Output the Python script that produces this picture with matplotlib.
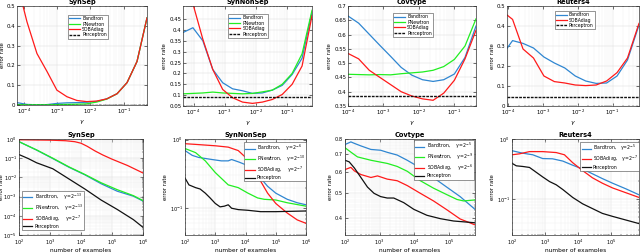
import numpy as np
import matplotlib
matplotlib.use("Agg")
import matplotlib.pyplot as plt
from matplotlib.ticker import FixedLocator, NullFormatter, LogLocator, FixedFormatter

# ---------------- data: top row (error rate vs gamma, x stored as log10 gamma) -------------
titles_top = ["SynSep", "SynNonSep", "Covtype", "Reuters4"]

synsep_g = [-4.21, -3.91, -3.61, -3.31, -3.01, -2.71, -2.41, -2.11, -1.81, -1.51, -1.20, -0.90, -0.60, -0.30]
synsep_band = [0.012, 0.003, 0.001, 0.002, 0.008, 0.011, 0.012, 0.014, 0.018, 0.031, 0.057, 0.113, 0.22, 0.44]
synsep_pnew = [0.002, 0.001, 0.001, 0.001, 0.002, 0.003, 0.004, 0.006, 0.015, 0.030, 0.057, 0.113, 0.22, 0.44]
synsep_soba = [0.62, 0.42, 0.26, 0.17, 0.075, 0.042, 0.023, 0.017, 0.020, 0.031, 0.057, 0.113, 0.22, 0.44]
synsep_perc = 0.002

synnon_g = [-4.34, -4.02, -3.70, -3.38, -3.06, -2.74, -2.42, -2.10, -1.78, -1.46, -1.14, -0.82, -0.50, -0.18]
synnon_band = [0.388, 0.41, 0.35, 0.218, 0.157, 0.129, 0.12, 0.108, 0.11, 0.123, 0.145, 0.195, 0.27, 0.48]
synnon_pnew = [0.106, 0.108, 0.11, 0.114, 0.11, 0.108, 0.106, 0.108, 0.115, 0.123, 0.15, 0.2, 0.29, 0.49]
synnon_soba = [0.62, 0.52, 0.357, 0.218, 0.126, 0.088, 0.068, 0.062, 0.068, 0.08, 0.103, 0.15, 0.234, 0.465]
synnon_perc = 0.09

cov_g = [-4.0, -3.7, -3.4, -3.1, -2.8, -2.5, -2.2, -1.9, -1.6, -1.3, -1.0, -0.7, -0.39]
cov_band = [0.665, 0.64, 0.601, 0.562, 0.524, 0.485, 0.458, 0.442, 0.436, 0.442, 0.462, 0.52, 0.63]
cov_pnew = [0.461, 0.46, 0.459, 0.46, 0.459, 0.463, 0.466, 0.469, 0.475, 0.488, 0.513, 0.56, 0.655]
cov_soba = [0.534, 0.515, 0.475, 0.45, 0.425, 0.40, 0.385, 0.375, 0.370, 0.395, 0.44, 0.515, 0.615]
cov_perc = 0.385

reu_g = [-4.03, -3.87, -3.57, -3.27, -2.97, -2.67, -2.37, -2.07, -1.77, -1.47, -1.17, -0.87, -0.57, -0.24]
reu_band = [0.288, 0.327, 0.313, 0.29, 0.245, 0.215, 0.19, 0.15, 0.125, 0.113, 0.115, 0.15, 0.23, 0.405]
reu_soba = [0.455, 0.433, 0.285, 0.24, 0.15, 0.122, 0.115, 0.105, 0.102, 0.105, 0.125, 0.167, 0.24, 0.413]
reu_perc = 0.043

# ---------------- data: bottom row (log10 examples, log10 error rate) -------------
ss_bx = [2, 2.57, 3.09, 3.61, 4.13, 4.65, 5.17, 5.69, 6.0]
ss_band = [-0.14, -0.58, -1.02, -1.47, -1.87, -2.33, -2.72, -2.98, -3.23]
ss_pnew = [-0.14, -0.57, -1.0, -1.45, -1.85, -2.28, -2.64, -2.95, -3.21]
ss_sx = [2, 3, 3.5, 3.8, 4.0, 4.2, 4.45, 4.7, 5.0, 5.5, 6.0]
ss_soba = [-0.04, -0.06, -0.09, -0.14, -0.22, -0.38, -0.62, -0.83, -1.05, -1.38, -1.77]
ss_px = [2, 2.3, 2.57, 3.09, 3.61, 4.13, 4.65, 5.17, 5.69, 6.0]
ss_perc = [-0.81, -1.02, -1.24, -1.55, -2.08, -2.61, -3.18, -3.67, -4.2, -4.6]

sn_bx = [2, 2.24, 2.45, 2.89, 3.2, 3.43, 3.54, 3.8, 4.08, 4.4, 4.73, 5.0, 5.38, 5.71, 6.0]
sn_band = [-0.16, -0.23, -0.26, -0.29, -0.31, -0.31, -0.29, -0.33, -0.38, -0.51, -0.68, -0.78, -0.87, -0.92, -0.95]
sn_nx = [2, 2.35, 2.67, 3.0, 3.43, 3.76, 4.08, 4.4, 4.62, 5.0, 5.38, 6.0]
sn_pnew = [-0.13, -0.19, -0.31, -0.48, -0.66, -0.70, -0.78, -0.85, -0.87, -0.88, -0.92, -0.97]
sn_sx = [2, 2.35, 3.0, 3.43, 3.76, 4.08, 4.4, 4.73, 5.0, 5.38, 5.71, 6.0]
sn_soba = [-0.06, -0.07, -0.09, -0.11, -0.16, -0.29, -0.53, -0.78, -0.93, -1.07, -1.17, -1.22]
sn_px = [2, 2.13, 2.24, 2.35, 2.5, 2.67, 2.83, 3.0, 3.16, 3.3, 3.43, 3.54, 3.76, 4.08, 4.5, 5.0, 6.0]
sn_perc = [-0.56, -0.66, -0.68, -0.70, -0.72, -0.78, -0.85, -0.93, -0.98, -0.97, -0.95, -1.0, -1.02, -1.03, -1.05, -1.05, -1.04]

cv_bx = [2, 2.17, 2.27, 2.46, 2.75, 3.03, 3.22, 3.51, 3.8, 4.18, 4.56, 4.95, 5.33, 5.76]
cv_band = [0.762, 0.78, 0.77, 0.753, 0.73, 0.725, 0.712, 0.695, 0.664, 0.621, 0.57, 0.524, 0.483, 0.432]
cv_nx = [2, 2.17, 2.36, 2.75, 3.22, 3.51, 3.8, 4.18, 4.56, 4.95, 5.24, 5.43, 5.76]
cv_pnew = [0.741, 0.713, 0.684, 0.664, 0.646, 0.629, 0.603, 0.555, 0.52, 0.491, 0.471, 0.465, 0.469]
cv_sx = [2, 2.17, 2.27, 2.46, 2.75, 2.94, 3.22, 3.51, 3.8, 4.18, 4.56, 4.95, 5.33, 5.76]
cv_soba = [0.612, 0.624, 0.605, 0.586, 0.571, 0.579, 0.563, 0.555, 0.532, 0.497, 0.465, 0.43, 0.397, 0.377]
cv_px = [2, 2.12, 2.27, 2.46, 2.65, 2.84, 3.03, 3.22, 3.41, 3.7, 3.99, 4.37, 4.76, 5.14, 5.76]
cv_perc = [0.664, 0.655, 0.621, 0.571, 0.525, 0.497, 0.483, 0.477, 0.477, 0.458, 0.432, 0.41, 0.398, 0.39, 0.384]

rt_bx = [2, 2.33, 2.63, 2.93, 3.23, 3.54, 3.84, 4.14, 4.44, 4.74, 5.05, 5.45, 5.85]
rt_band = [-0.195, -0.237, -0.263, -0.326, -0.33, -0.368, -0.437, -0.5, -0.58, -0.66, -0.737, -0.83, -0.93]
rt_sx = [2, 2.23, 2.53, 2.93, 3.34, 3.59, 3.84, 4.14, 4.44, 4.74, 5.05, 5.45, 5.85]
rt_soba = [-0.263, -0.247, -0.21, -0.21, -0.226, -0.263, -0.395, -0.526, -0.647, -0.737, -0.816, -0.895, -0.974]
rt_px = [2, 2.13, 2.33, 2.53, 2.73, 2.93, 3.14, 3.34, 3.54, 3.84, 4.14, 4.44, 4.74, 5.05, 5.45, 5.85]
rt_perc = [-0.405, -0.447, -0.458, -0.474, -0.553, -0.632, -0.71, -0.763, -0.842, -0.974, -1.08, -1.16, -1.24, -1.29, -1.35, -1.41]

# ---------------- style -------------
C_B = "#2f86d1"
C_G = "#22ee22"
C_R = "#ff1a1a"
C_K = "#111111"
FS = 3.9
LFS = 3.3
plt.rcParams.update({"font.family": "DejaVu Sans", "font.size": FS,
                     "axes.linewidth": 0.5, "xtick.direction": "in", "ytick.direction": "in",
                     "xtick.major.size": 2, "ytick.major.size": 2, "xtick.minor.size": 1,
                     "ytick.minor.size": 1, "xtick.major.width": 0.4, "ytick.major.width": 0.4,
                     "xtick.minor.width": 0.3, "ytick.minor.width": 0.3,
                     "xtick.major.pad": 1.5, "ytick.major.pad": 1.0})

W, H = 640, 252
fig = plt.figure(figsize=(6.4, 2.52), dpi=100)

def mkax(x0, y0, x1, y1):
    return fig.add_axes([x0 / W, 1 - y1 / H, (x1 - x0) / W, (y1 - y0) / H])

def style(ax, title):
    ax.set_title(title, fontsize=4.8, fontweight="bold", pad=1.2)
    ax.grid(True, which="major", color="#dcdcdc", lw=0.35)
    ax.grid(True, which="minor", color="#eeeeee", lw=0.3)
    ax.tick_params(which="both", top=True, right=True, labelsize=FS)
    ax.set_axisbelow(True)
    for s in ax.spines.values():
        s.set_color("#333333")

def legend(ax, loc, anc, hl):
    leg = ax.legend(loc=loc, bbox_to_anchor=anc, fontsize=LFS, frameon=True, fancybox=False,
                    edgecolor="#444444", framealpha=1, handlelength=hl, handletextpad=0.5,
                    borderpad=0.25, labelspacing=0.1, borderaxespad=0)
    leg.get_frame().set_linewidth(0.4)

LW = 0.9
top_boxes = [(17, 6, 147, 105), (183, 6, 312, 106), (348, 6, 476, 106), (507, 6, 639, 106)]
top_leg = [(0.39, 0.91), (0.35, 0.92), (0.35, 0.93), (0.36, 0.95)]
top_data = [
    (synsep_g, synsep_band, synsep_pnew, synsep_soba, synsep_perc, (0, 0.5), np.arange(0, 0.51, 0.1), "%.1f"),
    (synnon_g, synnon_band, synnon_pnew, synnon_soba, synnon_perc, (0.05, 0.51), np.arange(0.05, 0.451, 0.05), "%g"),
    (cov_g, cov_band, cov_pnew, cov_soba, cov_perc, (0.35, 0.7), np.arange(0.35, 0.701, 0.05), "%g"),
    (reu_g, reu_band, None, reu_soba, reu_perc, (0, 0.5), np.arange(0, 0.51, 0.1), "%.1f"),
]
for i in range(4):
    ax = mkax(*top_boxes[i])
    g, b, p, s, k, yl, yt, fmt = top_data[i]
    gx = 10.0 ** np.array(g)
    ax.plot(gx, b, color=C_B, lw=LW, label="Bandtron")
    if p is not None:
        ax.plot(gx, p, color=C_G, lw=LW, label="PNewtron")
    ax.plot(gx, s, color=C_R, lw=LW, label="SOBAdiag")
    ax.plot(gx, np.full(len(gx), k), color=C_K, lw=1.0, ls="--", dashes=(2, 0.8), label="Perceptron")
    ax.set_xscale("log")
    ax.set_xlim(gx[0], gx[-1])
    ax.set_ylim(*yl)
    ax.set_yticks(yt)
    ax.set_yticklabels([("0" if abs(v) < 1e-9 else (fmt % v)) for v in yt])
    ax.xaxis.set_major_locator(FixedLocator([1e-4, 1e-3, 1e-2, 1e-1]))
    ax.xaxis.set_minor_locator(LogLocator(base=10, subs=np.arange(2, 10), numticks=20))
    ax.xaxis.set_minor_formatter(NullFormatter())
    style(ax, titles_top[i])
    ax.set_xlabel(r"$\gamma$", fontsize=FS + 0.5, labelpad=1)
    ax.set_ylabel("error rate", fontsize=FS, labelpad=1.5)
    legend(ax, "upper left", top_leg[i], 2.4)

# ---------------- bottom row -------------
bot_boxes = [(19, 139, 143, 235), (185, 139, 306, 235), (345, 139, 475, 235), (512, 139, 639, 235)]
ax = mkax(*bot_boxes[0])
ax.plot(10 ** np.array(ss_bx), 10 ** np.array(ss_band), color=C_B, lw=LW, label=r"Bandtron,    $\gamma$=2$^{-13}$")
ax.plot(10 ** np.array(ss_bx), 10 ** np.array(ss_pnew), color=C_G, lw=LW, label=r"PNewtron,    $\gamma$=2$^{-13}$")
ax.plot(10 ** np.array(ss_sx), 10 ** np.array(ss_soba), color=C_R, lw=LW, label=r"SOBAdiag,    $\gamma$=2$^{-7}$")
ax.plot(10 ** np.array(ss_px), 10 ** np.array(ss_perc), color=C_K, lw=LW, label="Perceptron")
ax.set_xlim(1e2, 1e6); ax.set_ylim(1e-5, 1)
ax.set_xscale("log"); ax.set_yscale("log")
ax.yaxis.set_major_locator(FixedLocator([1e-5, 1e-4, 1e-3, 1e-2, 1e-1, 1]))
ax.legend_loc = ("lower left", (0.025, 0.05))
axes_bot = [ax]

ax = mkax(*bot_boxes[1])
ax.plot(10 ** np.array(sn_bx), 10 ** np.array(sn_band), color=C_B, lw=LW, label=r"Bandtron,    $\gamma$=2$^{-6}$")
ax.plot(10 ** np.array(sn_nx), 10 ** np.array(sn_pnew), color=C_G, lw=LW, label=r"PNewtron,    $\gamma$=2$^{-10}$")
ax.plot(10 ** np.array(sn_sx), 10 ** np.array(sn_soba), color=C_R, lw=LW, label=r"SOBAdiag,    $\gamma$=2$^{-7}$")
ax.plot(10 ** np.array(sn_px), 10 ** np.array(sn_perc), color=C_K, lw=LW, label="Perceptron")
ax.set_xscale("log"); ax.set_yscale("log")
ax.set_xlim(1e2, 1e6); ax.set_ylim(10 ** -1.39, 1.02)
ax.yaxis.set_major_locator(FixedLocator([1e-1, 1]))
ax.legend_loc = ("upper right", (1.0, 0.97))
axes_bot.append(ax)

ax = mkax(*bot_boxes[2])
ax.plot(10 ** np.array(cv_bx), cv_band, color=C_B, lw=LW, label=r"Bandtron,    $\gamma$=2$^{-5}$")
ax.plot(10 ** np.array(cv_nx), cv_pnew, color=C_G, lw=LW, label=r"PNewtron,    $\gamma$=2$^{-9}$")
ax.plot(10 ** np.array(cv_sx), cv_soba, color=C_R, lw=LW, label=r"SOBAdiag,    $\gamma$=2$^{-6}$")
ax.plot(10 ** np.array(cv_px), cv_perc, color=C_K, lw=LW, label="Perceptron")
ax.set_xscale("log"); ax.set_yscale("log")
ax.set_xlim(1e2, 10 ** 5.76); ax.set_ylim(0.345, 0.8)
ax.yaxis.set_major_locator(FixedLocator([0.4, 0.5, 0.6, 0.7, 0.8]))
ax.yaxis.set_major_formatter(FixedFormatter(["0.4", "0.5", "0.6", "0.7", "0.8"]))
ax.yaxis.set_minor_locator(FixedLocator(np.arange(0.35, 0.8, 0.01)))
ax.legend_loc = ("upper right", (0.995, 0.99))
axes_bot.append(ax)

ax = mkax(*bot_boxes[3])
ax.plot(10 ** np.array(rt_bx), 10 ** np.array(rt_band), color=C_B, lw=LW, label=r"Bandtron,   $\gamma$=2$^{-5}$")
ax.plot(10 ** np.array(rt_sx), 10 ** np.array(rt_soba), color=C_R, lw=LW, label=r"SOBAdiag,   $\gamma$=2$^{-7}$")
ax.plot(10 ** np.array(rt_px), 10 ** np.array(rt_perc), color=C_K, lw=LW, label="Perceptron")
ax.set_xscale("log"); ax.set_yscale("log")
ax.set_xlim(1e2, 10 ** 5.85); ax.set_ylim(10 ** -1.6, 1.0)
ax.yaxis.set_major_locator(FixedLocator([1e-1, 1]))
ax.legend_loc = ("upper right", (1.0, 0.97))
axes_bot.append(ax)

for ax, t in zip(axes_bot, titles_top):
    ax.xaxis.set_major_locator(FixedLocator([1e2, 1e3, 1e4, 1e5, 1e6]))
    ax.xaxis.set_minor_locator(LogLocator(base=10, subs=np.arange(2, 10), numticks=20))
    ax.xaxis.set_minor_formatter(NullFormatter())
    if t != "Covtype":
        ax.yaxis.set_minor_locator(LogLocator(base=10, subs=np.arange(2, 10), numticks=20))
    ax.yaxis.set_minor_formatter(NullFormatter())
    style(ax, t)
    ax.tick_params(axis="both", which="major", labelsize=3.6)
    ax.tick_params(axis="x", which="major", pad=2.2)
    ax.tick_params(axis="y", which="major", pad=1.6)
    ax.set_xlabel("number of examples", fontsize=FS + 0.3, labelpad=0.3)
    ax.set_ylabel("error rate", fontsize=FS, labelpad=1)
    loc, anc = ax.legend_loc
    legend(ax, loc, anc, 2.0)

axes_bot[0].yaxis.set_label_coords(-0.12, 0.5)
fig.savefig("out.png", dpi=100)
